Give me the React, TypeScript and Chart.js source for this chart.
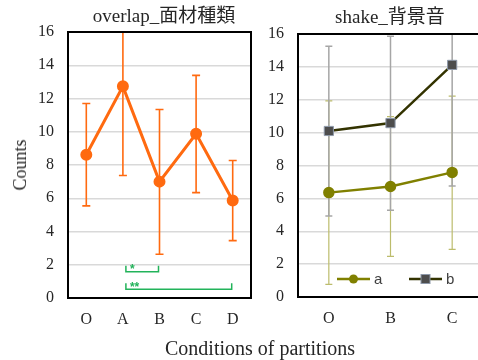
import { useEffect, useRef } from "react";
import { Chart, registerables } from "chart.js";

Chart.register(...registerables);

// ---- data ----
const overlapLabels = ["O", "A", "B", "C", "D"];
const overlapMean = [8.62, 12.73, 7.0, 9.88, 5.86];
const overlapLow = [5.54, 7.37, 2.63, 6.34, 3.45];
const overlapHigh = [11.7, 18.1, 11.34, 13.39, 8.27];

const shakeLabels = ["O", "B", "C"];
const shakeA = [6.35, 6.72, 7.58];
const shakeALow = [0.77, 2.47, 2.9];
const shakeAHigh = [11.93, 10.97, 12.22];
const shakeB = [10.1, 10.58, 14.12];
const shakeBLow = [4.93, 5.27, 6.75];
const shakeBHigh = [15.25, 15.87, 21.5];

const yMin = 0;
const yMax = 16;
const yStep = 2;

// significance brackets between conditions
const sigFrom = ["A", "A"];
const sigTo = ["B", "D"];
const sigLevel = [1.58, 0.52];
const sigMark = ["*", "**"];

const SERIF = '"Liberation Serif", "Times New Roman", "Noto Sans CJK JP", serif';
const SANS = '"Liberation Sans", Arial, sans-serif';

// vertical error bars, drawn under the series
const errorBarPlugin = {
  id: "errorBars",
  beforeDatasetsDraw(chart: any) {
    const { ctx, chartArea, scales } = chart;
    ctx.save();
    ctx.beginPath();
    ctx.rect(chartArea.left, chartArea.top, chartArea.right - chartArea.left, chartArea.bottom - chartArea.top);
    ctx.clip();
    chart.data.datasets.forEach((ds: any, i: number) => {
      const eb = ds.errorBars;
      if (!eb) return;
      const meta = chart.getDatasetMeta(i);
      meta.data.forEach((pt: any, j: number) => {
        const x = pt.x;
        const yl = scales.y.getPixelForValue(eb.low[j]);
        const yh = scales.y.getPixelForValue(eb.high[j]);
        ctx.strokeStyle = eb.color;
        ctx.lineWidth = eb.width;
        ctx.beginPath();
        ctx.moveTo(x, yl);
        ctx.lineTo(x, yh);
        ctx.moveTo(x - eb.cap, yl);
        ctx.lineTo(x + eb.cap, yl);
        ctx.moveTo(x - eb.cap, yh);
        ctx.lineTo(x + eb.cap, yh);
        ctx.stroke();
      });
    });
    ctx.restore();
  },
};

// black box around the plot area
const framePlugin = {
  id: "frame",
  afterDraw(chart: any) {
    const { ctx, chartArea } = chart;
    ctx.save();
    ctx.strokeStyle = "#000";
    ctx.lineWidth = 2;
    ctx.strokeRect(chartArea.left, chartArea.top, chartArea.right - chartArea.left, chartArea.bottom - chartArea.top);
    ctx.restore();
  },
};

// significance brackets with asterisks
const bracketPlugin = {
  id: "brackets",
  afterDatasetsDraw(chart: any) {
    const { ctx, scales } = chart;
    const labels = chart.data.labels as string[];
    ctx.save();
    ctx.strokeStyle = "#22b35a";
    ctx.fillStyle = "#22b35a";
    ctx.lineWidth = 1.5;
    sigFrom.forEach((from, k) => {
      const x1 = scales.x.getPixelForValue(labels.indexOf(from)) + 3;
      const x2 = scales.x.getPixelForValue(labels.indexOf(sigTo[k])) - 1;
      const y = scales.y.getPixelForValue(sigLevel[k]);
      ctx.beginPath();
      ctx.moveTo(x1, y - 6);
      ctx.lineTo(x1, y);
      ctx.lineTo(x2, y);
      ctx.lineTo(x2, y - 6);
      ctx.stroke();
      ctx.font = `bold 12px ${SANS}`;
      ctx.textAlign = "left";
      ctx.textBaseline = "middle";
      ctx.fillText(sigMark[k], x1 + 4, y - 2);
    });
    ctx.restore();
  },
};

// legend placed inside the bottom of the plot area
const innerLegendPlugin = {
  id: "innerLegend",
  afterDatasetsDraw(chart: any) {
    const { ctx, chartArea } = chart;
    const y = chartArea.bottom - 18;
    let x = chartArea.left + 39;
    ctx.save();
    chart.data.datasets.forEach((ds: any) => {
      ctx.strokeStyle = ds.borderColor;
      ctx.lineWidth = 2.5;
      ctx.beginPath();
      ctx.moveTo(x, y);
      ctx.lineTo(x + 33, y);
      ctx.stroke();
      const cx = x + 16.5;
      ctx.fillStyle = ds.pointBackgroundColor;
      ctx.strokeStyle = ds.pointBorderColor;
      ctx.lineWidth = 1;
      if (ds.pointStyle === "rect") {
        ctx.fillRect(cx - 4.5, y - 4.5, 9, 9);
        ctx.strokeRect(cx - 4.5, y - 4.5, 9, 9);
      } else {
        ctx.beginPath();
        ctx.arc(cx, y, 4.5, 0, Math.PI * 2);
        ctx.fill();
      }
      ctx.fillStyle = "#404040";
      ctx.font = `15px ${SANS}`;
      ctx.textAlign = "left";
      ctx.textBaseline = "middle";
      ctx.fillText(ds.label, x + 37, y + 1);
      x += 72;
    });
    ctx.restore();
  },
};

function yAxis(width: number) {
  return {
    min: yMin,
    max: yMax,
    ticks: {
      stepSize: yStep,
      padding: 14,
      color: "#262626",
      font: { family: SERIF, size: 16 },
    },
    grid: { color: "#d9d9d9", lineWidth: 1.5, drawTicks: false },
    border: { display: false },
    afterFit(s: any) {
      s.width = width;
    },
  };
}

function xAxis(height: number) {
  return {
    offset: true,
    ticks: {
      padding: 12,
      color: "#262626",
      font: { family: SERIF, size: 16 },
    },
    grid: { display: false, drawTicks: false },
    border: { display: false },
    afterFit(s: any) {
      s.height = height;
    },
  };
}

export default function App() {
  const leftRef = useRef<HTMLCanvasElement>(null);
  const rightRef = useRef<HTMLCanvasElement>(null);

  useEffect(() => {
    const left = new Chart(leftRef.current!, {
      type: "line",
      data: {
        labels: overlapLabels,
        datasets: [
          {
            label: "overlap",
            data: overlapMean,
            borderColor: "#ff6a10",
            backgroundColor: "#ff6a10",
            borderWidth: 3,
            pointRadius: 4.5,
            pointBackgroundColor: "#ff6a10",
            pointBorderColor: "#ff6a10",
            tension: 0,
            errorBars: { low: overlapLow, high: overlapHigh, color: "#ff6a10", width: 1.6, cap: 4 },
          } as any,
        ],
      },
      options: {
        animation: false,
        responsive: false,
        layout: { padding: { left: 0, top: 32, right: 11, bottom: 0 } },
        plugins: { legend: { display: false }, title: { display: false }, tooltip: { enabled: false } },
        scales: { x: xAxis(42) as any, y: yAxis(68) as any },
      },
      plugins: [errorBarPlugin, bracketPlugin, framePlugin],
    });

    const right = new Chart(rightRef.current!, {
      type: "line",
      data: {
        labels: shakeLabels,
        datasets: [
          {
            label: "a",
            data: shakeA,
            borderColor: "#808000",
            borderWidth: 2.5,
            pointRadius: 4.5,
            pointStyle: "circle",
            pointBackgroundColor: "#808000",
            pointBorderColor: "#808000",
            tension: 0,
            errorBars: { low: shakeALow, high: shakeAHigh, color: "#bcbc6c", width: 1.2, cap: 3.5 },
          } as any,
          {
            label: "b",
            data: shakeB,
            borderColor: "#333300",
            borderWidth: 2.5,
            pointRadius: 6.5,
            pointStyle: "rect",
            pointBackgroundColor: "#4d4d4d",
            pointBorderColor: "#8e99aa",
            pointBorderWidth: 1,
            tension: 0,
            errorBars: { low: shakeBLow, high: shakeBHigh, color: "#a6a6a6", width: 1.5, cap: 3.5 },
          } as any,
        ],
      },
      options: {
        animation: false,
        responsive: false,
        layout: { padding: { left: 0, top: 34, right: 9, bottom: 0 } },
        plugins: { legend: { display: false }, title: { display: false }, tooltip: { enabled: false } },
        scales: { x: xAxis(43) as any, y: yAxis(36) as any },
      },
      plugins: [errorBarPlugin, innerLegendPlugin, framePlugin],
    });

    return () => {
      left.destroy();
      right.destroy();
    };
  }, []);

  return (
    <div
      style={{
        position: "absolute",
        left: 0,
        top: 0,
        width: 478,
        height: 360,
        overflow: "hidden",
        background: "#fff",
        fontFamily: SERIF,
        color: "#262626",
      }}
    >
      <canvas ref={leftRef} width={262} height={340} style={{ position: "absolute", left: 0, top: 0 }} />
      <canvas ref={rightRef} width={230} height={340} style={{ position: "absolute", left: 262, top: 0 }} />
      <div
        style={{
          position: "absolute",
          left: 64,
          width: 200,
          top: 5,
          textAlign: "center",
          fontSize: 19,
          lineHeight: "22px",
          whiteSpace: "nowrap",
        }}
      >
        overlap_面材種類
      </div>
      <div
        style={{
          position: "absolute",
          left: 290,
          width: 200,
          top: 6,
          textAlign: "center",
          fontSize: 19,
          lineHeight: "22px",
          whiteSpace: "nowrap",
        }}
      >
        shake_背景音
      </div>
      <div
        style={{
          position: "absolute",
          left: 20,
          top: 165,
          width: 0,
          height: 0,
        }}
      >
        <div
          style={{
            position: "absolute",
            left: 0,
            top: 0,
            transform: "translate(-50%, -50%) rotate(-90deg)",
            fontSize: 18,
            lineHeight: "20px",
            whiteSpace: "nowrap",
          }}
        >
          Counts
        </div>
      </div>
      <div
        style={{
          position: "absolute",
          left: 60,
          width: 400,
          top: 338,
          textAlign: "center",
          fontSize: 20,
          lineHeight: "20px",
          whiteSpace: "nowrap",
        }}
      >
        Conditions of partitions
      </div>
    </div>
  );
}
